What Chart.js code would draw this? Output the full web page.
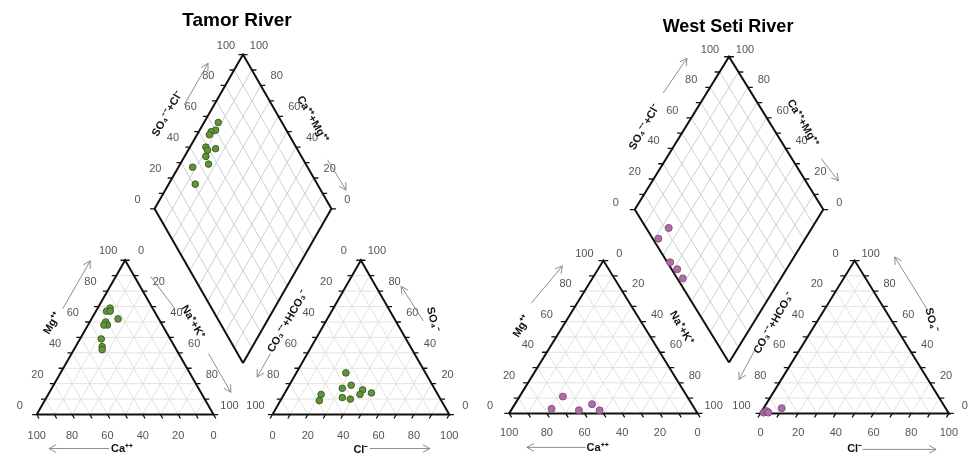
<!DOCTYPE html>
<html>
<head>
<meta charset="utf-8">
<script src="https://cdn.jsdelivr.net/npm/chart.js@4.4.1/dist/chart.umd.min.js"></script>
<style>
    html, body { margin: 0; padding: 0; background: #ffffff; }
    #wrap { position: relative; width: 974px; height: 463px; overflow: hidden; }
    .piper_box { position: absolute; top: 0; width: 487px; height: 463px; }
</style>
</head>
<body>
<div id="wrap">
    <div class="piper_box" style="left:0"><canvas id="piper_tamor" width="487" height="463"></canvas></div>
    <div class="piper_box" style="left:487px"><canvas id="piper_seti" width="487" height="463"></canvas></div>
</div>
<script>
// values, in percent of meq
const tick_values = [0, 20, 40, 60, 80, 100];

const tamor_cation_ca = [24, 27, 25, 23, 31, 31, 33, 39, 41, 42];
const tamor_cation_mg = [69, 67, 67, 62, 60, 58, 58, 49, 44, 42];
const tamor_anion_so4 = [27, 17, 19, 16, 14, 13, 13, 9, 11, 10];
const tamor_anion_cl = [28, 31, 35, 43, 49, 43, 21, 22, 34, 39];
const tamor_diamond_camg = [92, 91, 93, 93, 91, 89, 85, 88, 84, 92, 85];
const tamor_diamond_so4cl = [64, 60, 57, 55, 49, 49, 54, 46, 45, 35, 31];

const seti_cation_ca = [66, 76, 62, 53, 51];
const seti_cation_mg = [11, 3, 2, 6, 2];
const seti_anion_so4 = [3.4, 0.5, 1, 1.5, 0.5];
const seti_anion_cl = [9.6, 1.5, 3, 2.5, 4];
const seti_diamond_camg = [76, 78, 64, 58, 52];
const seti_diamond_so4cl = [12, 3, 1.5, 3, 3];

// piper geometry, triangle side = 100 units
const half_root3 = Math.sqrt(3) / 2;
const piper_gap = 100 / 3;
const anion_x0 = 100 + piper_gap;
const diamond_base = { x: 100 + piper_gap / 2, y: half_root3 * piper_gap };

function cation_point(ca, mg) {
    const nk = 100 - ca - mg;
    return { x: 0.5 * mg + nk, y: half_root3 * mg };
}

function anion_point(so4, cl) {
    return { x: anion_x0 + 0.5 * so4 + cl, y: half_root3 * so4 };
}

function diamond_point(camg, so4cl) {
    return {
        x: diamond_base.x - 0.5 * camg + 0.5 * so4cl,
        y: diamond_base.y + half_root3 * (camg + so4cl),
    };
}

// edges run clockwise on screen, so the outward side is always the left hand
const piper_edges = {
    cation_left: [cation_point(100, 0), cation_point(0, 100)],
    cation_right: [cation_point(0, 100), cation_point(0, 0)],
    cation_base: [cation_point(0, 0), cation_point(100, 0)],
    anion_left: [anion_point(0, 0), anion_point(100, 0)],
    anion_right: [anion_point(100, 0), anion_point(0, 100)],
    anion_base: [anion_point(0, 100), anion_point(0, 0)],
    diamond_left: [diamond_point(100, 0), diamond_point(100, 100)],
    diamond_right: [diamond_point(100, 100), diamond_point(0, 100)],
};
const edge_reversed = { anion_left: true, anion_right: true, anion_base: true, diamond_right: true };
const edge_side = {
    cation_left: 'left', anion_left: 'left', diamond_left: 'left',
    cation_right: 'right', anion_right: 'right', diamond_right: 'right',
    cation_base: 'base', anion_base: 'base',
};
const tick_dir = {
    left: [-1, 0],
    right: [1, 0],
    cation_base: [0.5, -half_root3],
    anion_base: [-0.5, -half_root3],
};

function lerp_point(edge, t) {
    return {
        x: edge[0].x + (edge[1].x - edge[0].x) * t,
        y: edge[0].y + (edge[1].y - edge[0].y) * t,
    };
}

function push_segment(list, points) {
    points.forEach(function (p) { list.push({ x: p.x, y: p.y }); });
    list.push({ x: null, y: null });
}

function build_triangle_grid() {
    const segs = [];
    for (let k = 10; k < 100; k += 10) {
        push_segment(segs, [cation_point(100 - k, k), cation_point(0, k)]);
        push_segment(segs, [cation_point(k, 0), cation_point(k, 100 - k)]);
        push_segment(segs, [cation_point(100 - k, 0), cation_point(0, 100 - k)]);
        push_segment(segs, [anion_point(k, 0), anion_point(k, 100 - k)]);
        push_segment(segs, [anion_point(0, k), anion_point(100 - k, k)]);
        push_segment(segs, [anion_point(0, 100 - k), anion_point(100 - k, 0)]);
    }
    return segs;
}

function build_diamond_grid() {
    const segs = [];
    for (let k = 10; k < 100; k += 10) {
        push_segment(segs, [diamond_point(k, 0), diamond_point(k, 100)]);
        push_segment(segs, [diamond_point(0, k), diamond_point(100, k)]);
    }
    return segs;
}

function build_outline() {
    const segs = [];
    push_segment(segs, [cation_point(100, 0), cation_point(0, 0), cation_point(0, 100), cation_point(100, 0)]);
    push_segment(segs, [anion_point(0, 0), anion_point(0, 100), anion_point(100, 0), anion_point(0, 0)]);
    push_segment(segs, [diamond_point(0, 0), diamond_point(100, 0), diamond_point(100, 100), diamond_point(0, 100), diamond_point(0, 0)]);
    return segs;
}

function build_ticks() {
    const segs = [];
    const len = 2.6;
    Object.keys(piper_edges).forEach(function (name) {
        const side = edge_side[name];
        const dir = tick_dir[name] || tick_dir[side];
        for (let k = 0; k <= 100; k += 10) {
            const p = lerp_point(piper_edges[name], k / 100);
            push_segment(segs, [p, { x: p.x + dir[0] * len, y: p.y + dir[1] * len }]);
        }
    });
    return segs;
}

const tamor_layout = {
    x_range: [-18.333, 252.222],
    y_range: [-24.79, 230.3],
    heading: { text: 'Tamor River', dx: -6, dy: -34, size: 19 },
    label_offset: { left: [-17, -9], right: [16, -9], base: [0, 21] },
    titles: [
        { text: 'Mg⁺⁺', edge: 'cation_left', t: 0.49, n: 32, rot: -60 },
        { text: 'Na⁺+K⁺', edge: 'cation_right', t: 0.49, n: 28, rot: 60 },
        { text: 'Ca⁺⁺', edge: 'cation_base', t: 0.517, n: 34, rot: 0 },
        { text: 'CO₃⁻⁻+HCO₃⁻', edge: 'anion_left', t: 0.497, n: 33, rot: -60 },
        { text: 'SO₄⁻', edge: 'anion_right', t: 0.49, n: 33, rot: 75 },
        { text: 'Cl⁻', edge: 'anion_base', t: 0.5, n: 35, rot: 0 },
        { text: 'SO₄⁻⁻+Cl⁻', edge: 'diamond_left', t: 0.5, n: 36, rot: -60 },
        { text: 'Ca⁺⁺+Mg⁺⁺', edge: 'diamond_right', t: 0.512, n: 28, rot: 60 },
    ],
    arrows: [
        { edge: 'cation_left', from: [0.59, 30], to: [0.9, 30], head: true },
        { edge: 'cation_right', from: [0.15, 14], to: [0.37, 19], head: false },
        { edge: 'cation_right', from: [0.69, 26], to: [0.94, 26], head: true },
        { edge: 'cation_base', from: [0.59, 34], to: [0.93, 34], head: true },
        { edge: 'anion_left', from: [0.29, 32], to: [0.14, 32], head: true },
        { edge: 'anion_right', from: [0.47, 24], to: [0.24, 22], head: true },
        { edge: 'anion_base', from: [0.45, 34], to: [0.11, 34], head: true },
        { edge: 'diamond_left', from: [0.59, 26], to: [0.86, 26], head: true },
        { edge: 'diamond_right', from: [0.75, 21], to: [0.95, 22], head: true },
    ],
};

const seti_layout = {
    x_range: [-9.375, 244.27],
    y_range: [-25.56, 231.67],
    heading: { text: 'West Seti River', dx: -1, dy: -30, size: 18 },
    label_offset: { left: [-19, -7], right: [16, -7], base: [0, 20] },
    titles: [
        { text: 'Mg⁺⁺', edge: 'cation_left', t: 0.45, n: 35, rot: -60 },
        { text: 'Na⁺+K⁺', edge: 'cation_right', t: 0.547, n: 31, rot: 60 },
        { text: 'Ca⁺⁺', edge: 'cation_base', t: 0.531, n: 35, rot: 0 },
        { text: 'CO₃⁻⁻+HCO₃⁻', edge: 'anion_left', t: 0.468, n: 36, rot: -60 },
        { text: 'SO₄⁻', edge: 'anion_right', t: 0.507, n: 34, rot: 75 },
        { text: 'Cl⁻', edge: 'anion_base', t: 0.5, n: 36, rot: 0 },
        { text: 'SO₄⁻⁻+Cl⁻', edge: 'diamond_left', t: 0.42, n: 35, rot: -60 },
        { text: 'Ca⁺⁺+Mg⁺⁺', edge: 'diamond_right', t: 0.53, n: 28, rot: 60 },
    ],
    arrows: [
        { edge: 'cation_left', from: [0.587, 39], to: [0.855, 32], head: true },
        { edge: 'cation_base', from: [0.594, 34], to: [0.906, 34], head: true },
        { edge: 'anion_left', from: [0.28, 38], to: [0.098, 36], head: true },
        { edge: 'anion_right', from: [0.437, 36], to: [0.1, 36], head: true },
        { edge: 'anion_base', from: [0.458, 36], to: [0.068, 36], head: true },
        { edge: 'diamond_left', from: [0.636, 37], to: [0.87, 35], head: true },
        { edge: 'diamond_right', from: [0.753, 25], to: [0.908, 28], head: true },
    ],
};

function to_px(chart, p) {
    return { x: chart.scales.x.getPixelForValue(p.x), y: chart.scales.y.getPixelForValue(p.y) };
}

function edge_frame(chart, name, t, n) {
    const edge = piper_edges[name];
    const p0 = to_px(chart, edge[0]);
    const p1 = to_px(chart, edge[1]);
    const dx = p1.x - p0.x;
    const dy = p1.y - p0.y;
    const len = Math.hypot(dx, dy);
    return { x: p0.x + dx * t + (dy / len) * n, y: p0.y + dy * t - (dx / len) * n };
}

function draw_text(ctx, text, x, y, rot) {
    ctx.save();
    ctx.translate(x, y);
    ctx.rotate(rot * Math.PI / 180);
    ctx.fillText(text, 0, 0);
    ctx.restore();
}

function piper_annotations(layout) {
    return {
        id: 'piper_annotations',
        afterDatasetsDraw: function (chart) {
            const ctx = chart.ctx;
            ctx.save();
            ctx.textAlign = 'center';
            ctx.textBaseline = 'middle';

            // tick labels
            ctx.fillStyle = '#555555';
            ctx.font = '11px "Liberation Sans", Arial, sans-serif';
            Object.keys(piper_edges).forEach(function (name) {
                const off = layout.label_offset[edge_side[name]];
                tick_values.forEach(function (v) {
                    const t = edge_reversed[name] ? 1 - v / 100 : v / 100;
                    const p = to_px(chart, lerp_point(piper_edges[name], t));
                    ctx.fillText(String(v), p.x + off[0], p.y + off[1]);
                });
            });

            // arrows
            ctx.strokeStyle = '#808080';
            ctx.lineWidth = 0.9;
            layout.arrows.forEach(function (a) {
                const p0 = edge_frame(chart, a.edge, a.from[0], a.from[1]);
                const p1 = edge_frame(chart, a.edge, a.to[0], a.to[1]);
                ctx.beginPath();
                ctx.moveTo(p0.x, p0.y);
                ctx.lineTo(p1.x, p1.y);
                if (a.head) {
                    const ang = Math.atan2(p1.y - p0.y, p1.x - p0.x);
                    [-0.5, 0.5].forEach(function (da) {
                        ctx.moveTo(p1.x, p1.y);
                        ctx.lineTo(p1.x - 8 * Math.cos(ang + da), p1.y - 8 * Math.sin(ang + da));
                    });
                }
                ctx.stroke();
            });

            // axis titles
            ctx.fillStyle = '#111111';
            ctx.font = 'bold 11px "Liberation Sans", Arial, sans-serif';
            layout.titles.forEach(function (tt) {
                const p = edge_frame(chart, tt.edge, tt.t, tt.n);
                draw_text(ctx, tt.text, p.x, p.y, tt.rot);
            });

            // heading above the diamond top
            const top = to_px(chart, diamond_point(100, 100));
            ctx.fillStyle = '#000000';
            ctx.font = 'bold ' + layout.heading.size + 'px "Liberation Sans", Arial, sans-serif';
            ctx.fillText(layout.heading.text, top.x + layout.heading.dx, top.y + layout.heading.dy);
            ctx.restore();
        },
    };
}

function line_dataset(data, color, width, order) {
    return {
        data: data,
        showLine: true,
        spanGaps: false,
        borderColor: color,
        borderWidth: width,
        pointRadius: 0,
        pointHoverRadius: 0,
        tension: 0,
        order: order,
    };
}

function point_dataset(data, fill, border, radius) {
    return {
        data: data,
        showLine: false,
        backgroundColor: fill,
        borderColor: border,
        borderWidth: 1,
        pointRadius: radius,
        pointHoverRadius: radius,
        order: 0,
    };
}

function render_piper(canvas_id, layout, samples, colors) {
    const cation = samples.cation_ca.map(function (ca, i) { return cation_point(ca, samples.cation_mg[i]); });
    const anion = samples.anion_so4.map(function (so4, i) { return anion_point(so4, samples.anion_cl[i]); });
    const diamond = samples.diamond_camg.map(function (camg, i) { return diamond_point(camg, samples.diamond_so4cl[i]); });

    return new Chart(document.getElementById(canvas_id).getContext('2d'), {
        type: 'scatter',
        data: {
            datasets: [
                point_dataset(cation.concat(anion, diamond), colors.fill, colors.border, colors.radius),
                line_dataset(build_outline(), '#111111', 2, 1),
                line_dataset(build_ticks(), '#111111', 1.3, 2),
                line_dataset(build_diamond_grid(), '#cfcfcf', 1, 3),
                line_dataset(build_triangle_grid(), '#e2e2e2', 1, 4),
            ],
        },
        options: {
            responsive: false,
            animation: false,
            layout: { padding: 0 },
            plugins: {
                legend: { display: false },
                tooltip: { enabled: false },
            },
            scales: {
                x: { type: 'linear', display: false, min: layout.x_range[0], max: layout.x_range[1] },
                y: { type: 'linear', display: false, min: layout.y_range[0], max: layout.y_range[1] },
            },
        },
        plugins: [piper_annotations(layout)],
    });
}

render_piper('piper_tamor', tamor_layout, {
    cation_ca: tamor_cation_ca,
    cation_mg: tamor_cation_mg,
    anion_so4: tamor_anion_so4,
    anion_cl: tamor_anion_cl,
    diamond_camg: tamor_diamond_camg,
    diamond_so4cl: tamor_diamond_so4cl,
}, { fill: '#62923a', border: '#3d6324', radius: 3.3 });

render_piper('piper_seti', seti_layout, {
    cation_ca: seti_cation_ca,
    cation_mg: seti_cation_mg,
    anion_so4: seti_anion_so4,
    anion_cl: seti_anion_cl,
    diamond_camg: seti_diamond_camg,
    diamond_so4cl: seti_diamond_so4cl,
}, { fill: '#ad6ea8', border: '#85507f', radius: 3.5 });
</script>
</body>
</html>
